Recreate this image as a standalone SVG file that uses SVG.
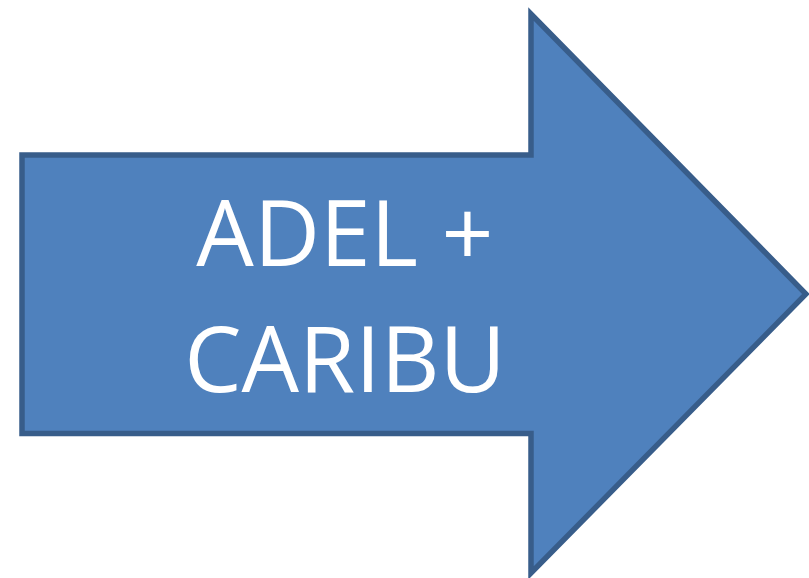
<svg xmlns="http://www.w3.org/2000/svg" width="809" height="578" viewBox="0 0 809 578">
<style>
.shape{fill:#4f81bd;stroke:#385d8a;stroke-width:5.5;stroke-linejoin:miter}
.label{font-family:"Open Sans","Liberation Sans",sans-serif;font-size:91px;fill:#ffffff;text-anchor:middle}
</style>
<rect width="809" height="578" fill="#ffffff"/>
<g id="arrow">
<polygon class="shape" points="22,155 531,155 531,14 806,294 531,573 531,433.5 22,433.5"/>
<text class="label" x="345" y="266">ADEL +</text>
<text class="label" x="345" y="392">CARIBU</text>
</g>
</svg>
